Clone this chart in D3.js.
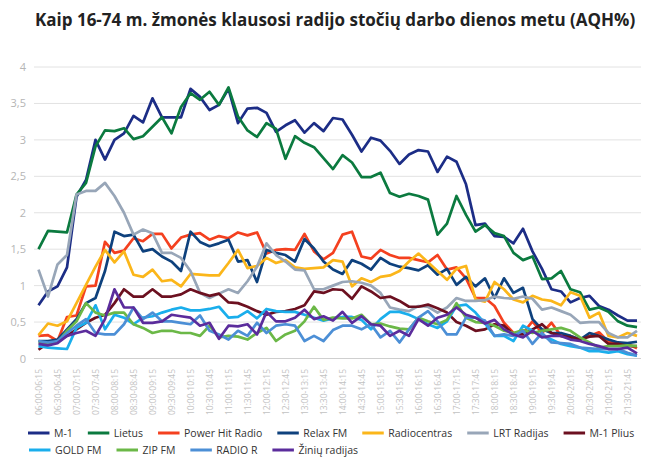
<!DOCTYPE html>
<html>
<head>
<meta charset="utf-8">
<script src="https://cdn.jsdelivr.net/npm/d3@7"></script>
<style>
	body { margin: 0; background: #fff; }
	svg { display: block; }
</style>
</head>
<body>
<svg id="svgChart"></svg>
<script>
// Time slots (categories)
const slots = [
	"06:00-06:15","06:15-06:30","06:30-06:45","06:45-07:00","07:00-07:15","07:15-07:30","07:30-07:45","07:45-08:00",
	"08:00-08:15","08:15-08:30","08:30-08:45","08:45-09:00","09:00-09:15","09:15-09:30","09:30-09:45","09:45-10:00",
	"10:00-10:15","10:15-10:30","10:30-10:45","10:45-11:00","11:00-11:15","11:15-11:30","11:30-11:45","11:45-12:00",
	"12:00-12:15","12:15-12:30","12:30-12:45","12:45-13:00","13:00-13:15","13:15-13:30","13:30-13:45","13:45-14:00",
	"14:00-14:15","14:15-14:30","14:30-14:45","14:45-15:00","15:00-15:15","15:15-15:30","15:30-15:45","15:45-16:00",
	"16:00-16:15","16:15-16:30","16:30-16:45","16:45-17:00","17:00-17:15","17:15-17:30","17:30-17:45","17:45-18:00",
	"18:00-18:15","18:15-18:30","18:30-18:45","18:45-19:00","19:00-19:15","19:15-19:30","19:30-19:45","19:45-20:00",
	"20:00-20:15","20:15-20:30","20:30-20:45","20:45-21:00","21:00-21:15","21:15-21:30","21:30-21:45","21:45-22:00"
];

// Y ticks
const yTicks = [0, 0.5, 1, 1.5, 2, 2.5, 3, 3.5, 4];

// Station names (legend order)
const stations = ["M-1", "Lietus", "Power Hit Radio", "Relax FM", "Radiocentras", "LRT Radijas", "M-1 Plius",
	"GOLD FM", "ZIP FM", "RADIO R", "Žinių radijas"];

// AQH% per station
const m1 = [0.73,0.92,0.99,1.25,2.22,2.45,3.0,2.73,3.0,3.09,3.33,3.24,3.57,3.31,3.31,3.31,
	3.7,3.59,3.41,3.48,3.7,3.23,3.43,3.44,3.37,3.11,3.2,3.27,3.1,3.23,3.12,3.3,
	3.28,3.07,2.84,3.03,2.99,2.85,2.67,2.8,2.86,2.84,2.56,2.77,2.7,2.39,1.83,1.85,
	1.68,1.67,1.58,1.78,1.47,1.23,0.95,0.92,0.77,0.83,0.86,0.72,0.67,0.59,0.52,0.52];
const lietus = [1.5,1.75,1.74,1.73,2.25,2.41,2.91,3.13,3.12,3.16,3.01,3.05,3.18,3.31,3.09,3.45,
	3.64,3.55,3.66,3.48,3.72,3.32,3.13,3.04,3.23,3.15,2.74,3.05,2.96,2.9,2.75,2.6,
	2.79,2.69,2.49,2.49,2.55,2.27,2.22,2.26,2.23,2.18,1.7,1.85,2.23,1.97,1.74,1.83,
	1.72,1.68,1.45,1.35,1.4,1.09,1.1,1.2,0.95,0.91,0.67,0.7,0.64,0.51,0.45,0.43];
const powerHit = [0.31,0.32,0.24,0.57,0.59,0.99,1.0,1.6,1.45,1.48,1.65,1.61,1.71,1.71,1.51,1.66,
	1.7,1.72,1.63,1.68,1.65,1.73,1.69,1.73,1.44,1.49,1.5,1.49,1.71,1.47,1.36,1.45,
	1.7,1.74,1.4,1.37,1.49,1.42,1.38,1.38,1.35,1.32,1.42,1.22,1.25,1.1,0.83,0.83,
	0.72,0.49,0.35,0.35,0.51,0.35,0.49,0.31,0.31,0.26,0.31,0.36,0.23,0.2,0.2,0.14];
const relax = [0.24,0.24,0.26,0.4,0.54,0.76,0.83,1.2,1.74,1.68,1.7,1.47,1.5,1.4,1.33,1.2,
	1.74,1.6,1.54,1.58,1.63,1.33,1.35,1.05,1.49,1.45,1.42,1.33,1.64,1.51,1.33,1.22,
	1.16,1.35,1.3,1.22,1.38,1.3,1.26,1.24,1.21,1.28,1.15,1.23,1.01,1.12,0.99,1.1,
	0.83,1.1,0.9,0.97,0.54,0.4,0.35,0.35,0.31,0.26,0.35,0.31,0.26,0.22,0.21,0.23];
const radiocentras = [0.32,0.48,0.45,0.51,0.76,1.01,1.26,1.49,1.32,1.47,1.15,1.12,1.22,1.06,1.08,0.99,
	1.16,1.15,1.14,1.14,1.31,1.49,1.24,1.27,1.38,1.31,1.35,1.25,1.23,1.24,1.25,1.35,
	1.33,0.99,1.1,1.05,1.12,1.14,1.2,1.33,1.44,1.32,1.2,1.08,1.23,1.27,0.81,0.78,
	1.05,0.95,0.81,0.77,0.86,0.81,0.79,0.73,0.91,0.86,0.56,0.63,0.31,0.29,0.35,0.31];
const lrt = [1.22,0.85,1.29,1.42,2.25,2.3,2.3,2.41,2.23,2.0,1.7,1.77,1.72,1.45,1.45,1.38,
	1.2,0.9,0.83,0.89,0.95,0.9,1.06,1.26,1.58,1.42,1.33,1.22,1.21,0.95,0.95,1.0,
	1.05,1.06,1.04,1.0,0.9,0.7,0.67,0.65,0.72,0.71,0.63,0.7,0.83,0.79,0.79,0.8,
	0.85,0.83,0.82,0.85,0.82,0.67,0.7,0.65,0.6,0.49,0.5,0.5,0.35,0.29,0.29,0.38];
const m1Plius = [0.12,0.21,0.24,0.31,0.4,0.49,0.56,0.6,0.76,0.95,0.85,0.85,0.95,0.85,0.85,0.88,
	0.95,0.9,0.86,0.89,0.77,0.76,0.71,0.65,0.6,0.64,0.65,0.68,0.73,0.92,0.9,0.95,
	0.94,0.82,0.99,0.92,0.83,0.85,0.79,0.71,0.71,0.74,0.69,0.63,0.5,0.45,0.38,0.4,
	0.47,0.45,0.33,0.33,0.4,0.47,0.35,0.31,0.29,0.26,0.3,0.31,0.2,0.2,0.17,0.17];
const goldFm = [0.17,0.15,0.14,0.13,0.42,0.49,0.73,0.4,0.6,0.56,0.47,0.56,0.58,0.63,0.67,0.7,
	0.66,0.66,0.68,0.71,0.56,0.57,0.65,0.55,0.68,0.65,0.64,0.64,0.6,0.56,0.52,0.55,
	0.57,0.57,0.53,0.4,0.54,0.64,0.64,0.6,0.54,0.47,0.42,0.51,0.72,0.74,0.63,0.48,
	0.31,0.31,0.24,0.45,0.38,0.31,0.26,0.2,0.17,0.15,0.1,0.1,0.08,0.1,0.06,0.04];
const zipFm = [0.22,0.21,0.22,0.38,0.51,0.76,0.63,0.59,0.63,0.63,0.47,0.42,0.35,0.38,0.38,0.35,
	0.35,0.31,0.45,0.29,0.31,0.3,0.26,0.35,0.42,0.24,0.33,0.38,0.51,0.71,0.53,0.56,
	0.55,0.55,0.6,0.47,0.48,0.44,0.41,0.4,0.56,0.51,0.47,0.53,0.76,0.56,0.5,0.49,
	0.45,0.38,0.35,0.39,0.35,0.38,0.4,0.42,0.38,0.29,0.22,0.15,0.17,0.17,0.18,0.17];
const radioR = [0.24,0.22,0.24,0.35,0.45,0.54,0.35,0.33,0.33,0.47,0.7,0.54,0.63,0.51,0.51,0.49,
	0.47,0.59,0.38,0.33,0.26,0.38,0.31,0.49,0.35,0.45,0.47,0.45,0.24,0.31,0.24,0.39,
	0.45,0.45,0.4,0.47,0.29,0.38,0.22,0.4,0.56,0.65,0.51,0.33,0.33,0.56,0.56,0.52,
	0.31,0.33,0.31,0.38,0.2,0.35,0.22,0.21,0.2,0.15,0.14,0.13,0.13,0.13,0.08,0.04];
const ziniuRadijas = [0.2,0.18,0.21,0.31,0.35,0.38,0.31,0.54,0.95,0.7,0.7,0.49,0.49,0.51,0.6,0.58,
	0.56,0.45,0.49,0.27,0.45,0.44,0.47,0.33,0.64,0.51,0.51,0.56,0.67,0.54,0.58,0.52,
	0.64,0.49,0.58,0.47,0.45,0.31,0.38,0.31,0.54,0.45,0.56,0.6,0.7,0.6,0.56,0.48,
	0.53,0.4,0.33,0.29,0.38,0.29,0.31,0.31,0.26,0.24,0.2,0.17,0.13,0.13,0.15,0.07];

const seriesValues = [m1, lietus, powerHit, relax, radiocentras, lrt, m1Plius, goldFm, zipFm, radioR, ziniuRadijas];
const colors = ["#1c2d86", "#0b7a3f", "#f4401f", "#0e417d", "#fbb61a", "#98a6b8", "#6c1020",
	"#1aaeec", "#6bb847", "#4c8fd6", "#5b2c9c"];

// Init parameters
var rc = {};
rc.width = 670;
rc.height = 475;
rc.title = "Kaip 16-74 m. žmonės klausosi radijo stočių darbo dienos metu (AQH%)";

rc.init = () => {
	let svg = d3.select("#svgChart")
		.attr("width", rc.width)
		.attr("height", rc.height);

	let locale = d3.formatLocale({decimal: ",", thousands: " ", grouping: [3], currency: ["", "€"]});
	let fmt = locale.format("~g");

	// Scales
	let x = d3.scalePoint()
			.domain(slots)
			.range([38.5, 637]),
		y = d3.scaleLinear()
			.domain([0, 4])
			.range([358.5, 67]);

	// Title
	svg.append("text")
		.attr("x", 35)
		.attr("y", 26)
		.style("font-family", "'Open Sans', sans-serif")
		.style("font-weight", 700)
		.style("font-size", "17px")
		.style("fill", "#222")
		.text(rc.title);

	// Grid lines
	svg.append("g")
		.selectAll("line")
		.data(yTicks)
		.enter()
		.append("line")
		.attr("x1", 34)
		.attr("x2", 641)
		.attr("y1", d => y(d))
		.attr("y2", d => y(d))
		.attr("stroke", d => d == 0 ? "#cfcfcf" : "#e2e2e2")
		.attr("stroke-width", 1);

	// Y axis labels
	let yAxis = svg.append("g")
		.attr("transform", "translate(26,0)")
		.call(d3.axisLeft(y).tickValues(yTicks).tickFormat(fmt).tickSize(0).tickPadding(0));
	yAxis.select(".domain").remove();
	yAxis.selectAll("text")
		.style("font-family", "'Open Sans', sans-serif")
		.style("font-size", "11px")
		.style("fill", "#b5b5b5");

	// X axis labels (every second slot)
	let xAxis = svg.append("g")
		.attr("transform", "translate(0,369)")
		.call(d3.axisBottom(x).tickValues(slots.filter((d, i) => i % 2 == 0)).tickSize(0).tickPadding(0));
	xAxis.select(".domain").remove();
	xAxis.selectAll("text")
		.attr("transform", "rotate(-90)")
		.attr("x", 0)
		.attr("y", 0)
		.attr("dy", "0.32em")
		.style("text-anchor", "end")
		.style("font-family", "'Open Sans', sans-serif")
		.style("font-size", "8.5px")
		.style("fill", "#c2c2c2");

	// Lines
	let line = d3.line()
		.x((d, i) => x(slots[i]))
		.y(d => y(d));

	svg.append("g")
		.selectAll("path")
		.data(seriesValues)
		.enter()
		.append("path")
		.attr("d", d => line(d))
		.attr("fill", "none")
		.attr("stroke", (d, i) => colors[i])
		.attr("stroke-width", 2.7)
		.attr("stroke-linejoin", "round");

	// Legend (flow layout, 7 items in the first row)
	let legend = svg.append("g");
	let lx = 28, row = 0;
	stations.forEach((name, i) => {
		if (i == 7) { lx = 29; row = 1; }
		let ly = 433 + row * 17;
		let item = legend.append("g").attr("transform", "translate(" + lx + "," + ly + ")");
		item.append("line")
			.attr("x1", 0).attr("x2", 21.5)
			.attr("stroke", colors[i])
			.attr("stroke-width", 3);
		let t = item.append("text")
			.attr("x", 26)
			.attr("dy", "0.35em")
			.style("font-family", "'Open Sans', sans-serif")
			.style("font-size", "10.5px")
			.style("fill", "#333")
			.text(name);
		lx += 26 + t.node().getComputedTextLength() + 15;
	});
}

rc.init();
</script>
</body>
</html>
